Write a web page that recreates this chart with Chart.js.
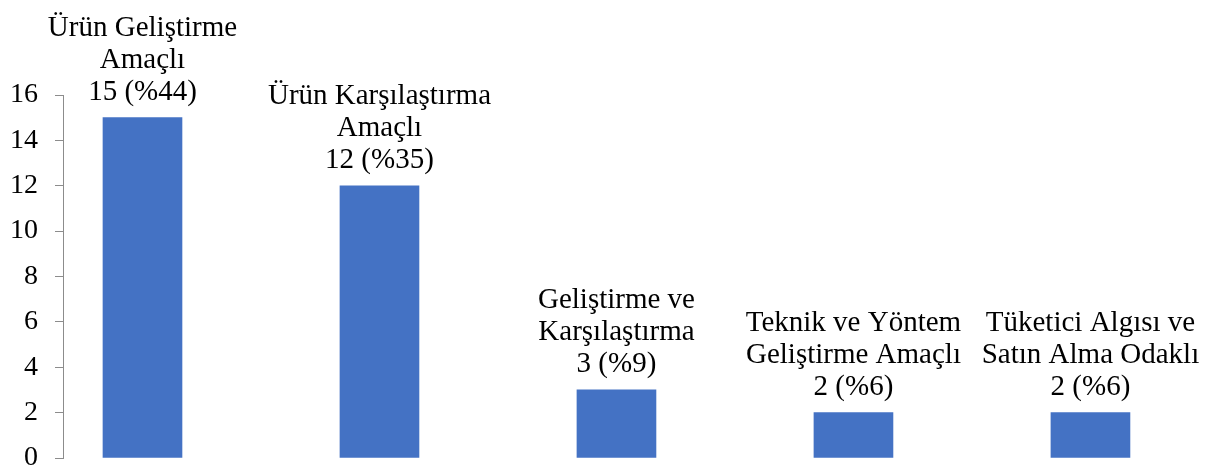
<!DOCTYPE html>
<html>
<head>
<meta charset="utf-8">
<script src="https://cdn.jsdelivr.net/npm/chart.js@4/dist/chart.umd.min.js"></script>
<style>
  html, body { margin: 0; padding: 0; background: #fff; overflow: hidden; }
  canvas { display: block; }
</style>
</head>
<body>
<canvas id="c" width="1208" height="469"></canvas>
<script>
const categories = [
  ["Ürün Geliştirme", "Amaçlı"],
  ["Ürün Karşılaştırma", "Amaçlı"],
  ["Geliştirme ve", "Karşılaştırma"],
  ["Teknik ve Yöntem", "Geliştirme Amaçlı"],
  ["Tüketici Algısı ve", "Satın Alma Odaklı"]
];
const counts = [15, 12, 3, 2, 2];
const percents = [44, 35, 9, 6, 6];
const yTicks = [0, 2, 4, 6, 8, 10, 12, 14, 16];

const FONT = "'Liberation Serif', 'Times New Roman', serif";

const labelPlugin = {
  id: 'barLabels',
  afterDatasetsDraw(chart) {
    const ctx = chart.ctx;
    const meta = chart.getDatasetMeta(0);
    ctx.save();
    ctx.font = "29px " + FONT;
    ctx.fillStyle = "#000";
    ctx.textAlign = "center";
    ctx.textBaseline = "alphabetic";
    meta.data.forEach((bar, i) => {
      const lines = categories[i].concat([counts[i] + " (%" + percents[i] + ")"]);
      const n = lines.length;
      lines.forEach((t, j) => {
        ctx.fillText(t, bar.x, bar.y - 18 - (n - 1 - j) * 32);
      });
    });
    ctx.restore();
  }
};

new Chart(document.getElementById('c'), {
  type: 'bar',
  data: {
    datasets: [{
      data: counts.map((v, i) => ({ x: i, y: v })),
      backgroundColor: '#4472C4',
      borderWidth: 0,
      barThickness: 79
    }]
  },
  options: {
    responsive: false,
    devicePixelRatio: 1,
    animation: false,
    events: [],
    layout: { padding: { top: 95, bottom: 11, left: 0, right: 0 } },
    plugins: { legend: { display: false }, tooltip: { enabled: false } },
    scales: {
      x: {
        type: 'linear',
        display: false,
        offset: false,
        min: -0.3354,
        max: 4.496,
        grid: { offset: false }
      },
      y: {
        min: 0,
        max: 16,
        afterFit: s => { s.width = 63; s.paddingTop = 0; s.paddingBottom = 0; },
        afterBuildTicks: s => { s.ticks = yTicks.map(v => ({ value: v })); },
        border: { display: true, color: '#8c8c8c', width: 1 },
        grid: { display: true, drawOnChartArea: false, drawTicks: true, tickLength: 8, color: '#8c8c8c' },
        ticks: { padding: 17, color: '#000', font: { family: FONT, size: 28 } }
      }
    }
  },
  plugins: [labelPlugin]
});
</script>
</body>
</html>
